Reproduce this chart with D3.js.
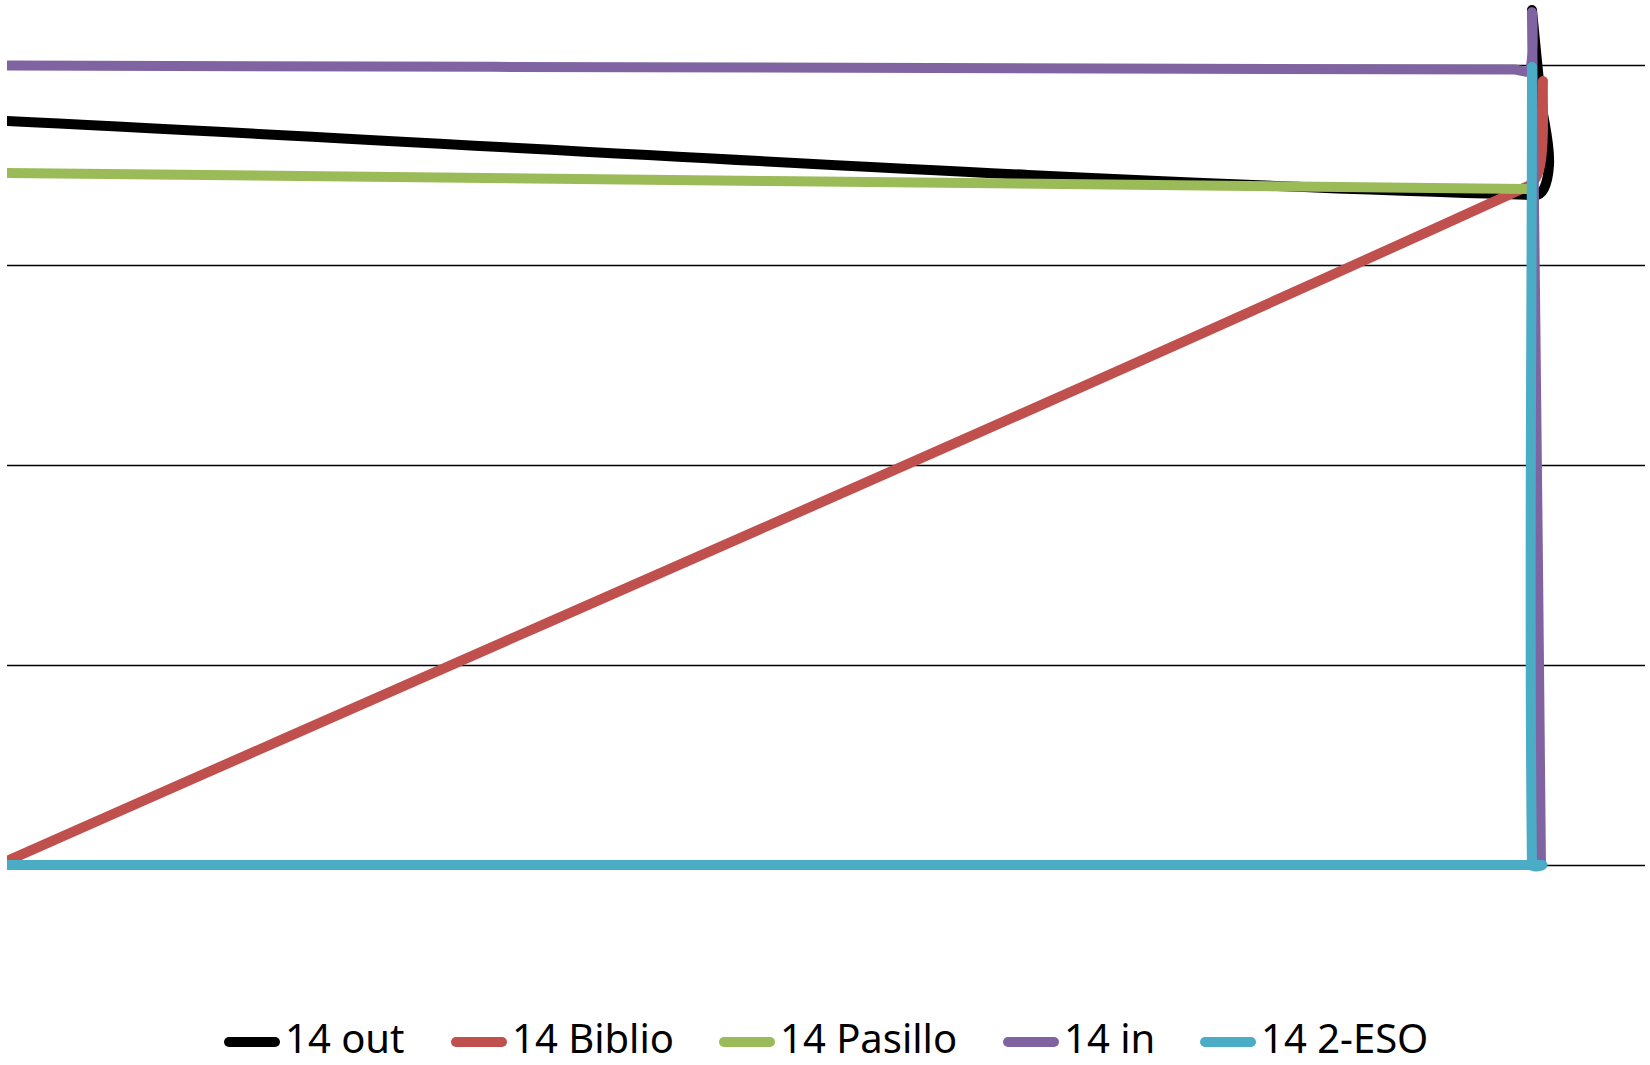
<!DOCTYPE html>
<html>
<head>
<meta charset="utf-8">
<script src="https://cdnjs.cloudflare.com/ajax/libs/d3/7.8.5/d3.min.js"></script>
<style>
  body { margin: 0; background: #fff; }
</style>
</head>
<body>
<div id="chart"></div>
<script>
// series labels / colours (legend order = draw order)
var seriesNames  = ['14 out', '14 Biblio', '14 Pasillo', '14 in', '14 2-ESO'];
var seriesColors = ['#000000', '#C0504D', '#9BBB59', '#8064A2', '#4BACC6'];

// x / y values (y gridlines every 10)
var outX      = [0, 93.28, 94.14, 93.65, 93.10];
var outY      = [37.2, 33.5, 35.0, 38.25, 42.75];
var biblioX   = [0, 92.86, 93.65, 93.77];
var biblioY   = [0.2, 33.95, 35.25, 39.2];
var pasilloX  = [0, 93.1];
var pasilloY  = [34.6, 33.8];
var inX       = [0, 92.0, 92.98, 93.1, 93.65];
var inY       = [39.97, 39.77, 39.75, 42.5, 0];
var esoX      = [0, 93.71, 93.1, 93.1];
var esoY      = [0, 0, 0, 39.9];

var yTicks = [0, 10, 20, 30, 40];

var allX = [outX, biblioX, pasilloX, inX, esoX];
var allY = [outY, biblioY, pasilloY, inY, esoY];

var W = 1650, H = 1065;
var plot = { left: 7, right: 1645, top: 65, bottom: 865 };

var x = d3.scaleLinear().domain([0, 100]).range([plot.left, plot.right]);
var y = d3.scaleLinear().domain([0, 40]).range([plot.bottom, plot.top]);

var svg = d3.select('#chart').append('svg')
    .attr('width', W)
    .attr('height', H);

svg.append('defs').append('clipPath')
    .attr('id', 'plotClip')
  .append('rect')
    .attr('x', plot.left)
    .attr('y', 0)
    .attr('width', W - plot.left)
    .attr('height', 960);

// gridlines
svg.append('g')
    .attr('class', 'grid')
  .selectAll('line').data(yTicks).enter()
  .append('line')
    .attr('x1', plot.left)
    .attr('x2', plot.right)
    .attr('y1', function(d){ return Math.round(y(d)) + 0.5; })
    .attr('y2', function(d){ return Math.round(y(d)) + 0.5; })
    .attr('stroke', '#000')
    .attr('stroke-width', 1.5);

var series = seriesNames.map(function(name, i){
  return {
    name: name,
    color: seriesColors[i],
    pts: allX[i].map(function(v, j){ return [v, allY[i][j]]; })
  };
});

// spreadsheet-style smoothed line: bezier with tangents scaled by segment length
function smoothPath(data) {
  var pts = data.map(function(d){ return [x(d[0]), y(d[1])]; });
  var n = pts.length;
  var p = d3.path();
  var dist = function(a, b){ return Math.sqrt((a[0]-b[0])*(a[0]-b[0]) + (a[1]-b[1])*(a[1]-b[1])); };
  p.moveTo(pts[0][0], pts[0][1]);
  for (var i = 0; i < n - 1; i++) {
    var p0 = pts[Math.max(i - 1, 0)],
        p1 = pts[i],
        p2 = pts[i + 1],
        p3 = pts[Math.min(i + 2, n - 1)];
    var d01 = dist(p0, p1), d12 = dist(p1, p2), d23 = dist(p2, p3);
    var f1 = d12 / (d01 + d12) / 3,
        f2 = d12 / (d12 + d23) / 3;
    p.bezierCurveTo(
      p1[0] + (p2[0] - p0[0]) * f1, p1[1] + (p2[1] - p0[1]) * f1,
      p2[0] - (p3[0] - p1[0]) * f2, p2[1] - (p3[1] - p1[1]) * f2,
      p2[0], p2[1]);
  }
  return p.toString();
}

svg.append('g')
    .attr('clip-path', 'url(#plotClip)')
  .selectAll('path').data(series).enter()
  .append('path')
    .attr('d', function(d){ return smoothPath(d.pts); })
    .attr('fill', 'none')
    .attr('stroke', function(d){ return d.color; })
    .attr('stroke-width', 10)
    .attr('stroke-linecap', 'round')
    .attr('stroke-linejoin', 'round');

// legend
var legendX = [224, 451, 719, 1003, 1200];
var legendY = 1042;
var lg = svg.append('g').attr('class', 'legend')
  .selectAll('g').data(series).enter()
  .append('g')
    .attr('transform', function(d, i){ return 'translate(' + legendX[i] + ',' + legendY + ')'; });

lg.append('line')
    .attr('x1', 5)
    .attr('x2', 51)
    .attr('y1', 0)
    .attr('y2', 0)
    .attr('stroke', function(d){ return d.color; })
    .attr('stroke-width', 10)
    .attr('stroke-linecap', 'round');

lg.append('text')
    .attr('x', 61)
    .attr('y', 11)
    .style('font-family', '"Noto Sans", sans-serif')
    .style('font-size', '40px')
    .attr('fill', '#000')
    .text(function(d){ return d.name; });
</script>
</body>
</html>
